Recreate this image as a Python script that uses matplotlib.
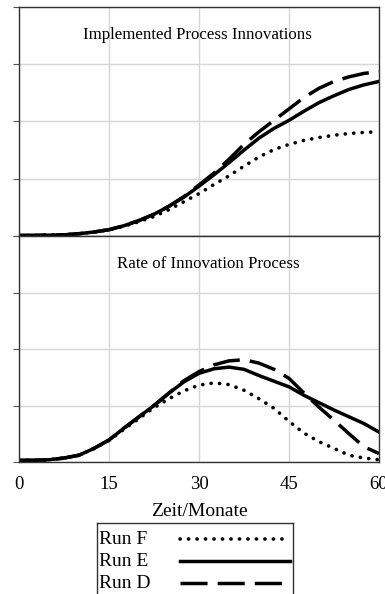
import matplotlib
matplotlib.use("Agg")
import matplotlib.pyplot as plt
from matplotlib.lines import Line2D

plt.rcParams['font.family'] = ['Liberation Serif', 'DejaVu Serif']

months = [0, 2.5, 5, 7.5, 10, 12.5, 15, 17.5, 20, 22.5, 25, 27.5, 30,
          32.5, 35, 37.5, 40, 42.5, 45, 47.5, 50, 52.5, 55, 57.5, 60]

# Implemented Process Innovations (grid units)
impl_F = [0.01, 0.01, 0.015, 0.02, 0.04, 0.07, 0.11, 0.17, 0.25, 0.34, 0.46, 0.60, 0.74,
          0.90, 1.05, 1.22, 1.38, 1.51, 1.60, 1.67, 1.72, 1.76, 1.79, 1.81, 1.82]
impl_E = [0.01, 0.01, 0.015, 0.02, 0.04, 0.07, 0.11, 0.18, 0.27, 0.38, 0.52, 0.68, 0.87,
          1.07, 1.28, 1.50, 1.71, 1.88, 2.02, 2.18, 2.33, 2.45, 2.56, 2.64, 2.70]
impl_D = [0.01, 0.01, 0.015, 0.02, 0.04, 0.07, 0.11, 0.18, 0.27, 0.38, 0.52, 0.69, 0.89,
          1.10, 1.34, 1.60, 1.82, 2.02, 2.22, 2.42, 2.58, 2.70, 2.78, 2.84, 2.87]

# Rate of Innovation Process (grid units)
rate_F = [0.03, 0.03, 0.04, 0.07, 0.12, 0.24, 0.38, 0.58, 0.77, 0.96, 1.12, 1.26, 1.36,
          1.40, 1.37, 1.27, 1.12, 0.95, 0.72, 0.51, 0.36, 0.24, 0.12, 0.07, 0.04]
rate_E = [0.03, 0.03, 0.04, 0.07, 0.12, 0.24, 0.39, 0.60, 0.80, 1.00, 1.22, 1.42, 1.57,
          1.65, 1.68, 1.64, 1.53, 1.43, 1.33, 1.18, 1.05, 0.92, 0.80, 0.68, 0.53]
rate_D = [0.03, 0.03, 0.04, 0.07, 0.12, 0.24, 0.39, 0.60, 0.80, 1.00, 1.22, 1.44, 1.60,
          1.72, 1.79, 1.81, 1.75, 1.64, 1.48, 1.22, 0.97, 0.74, 0.50, 0.27, 0.15]

run_labels = ["Run F", "Run E", "Run D"]
panel_titles = ["Implemented Process Innovations", "Rate of Innovation Process"]
x_ticks = [0, 15, 30, 45, 60]
y_ticks = [0, 1, 2, 3, 4]
x_label = "Zeit/Monate"

W, H = 385, 594
fig = plt.figure(figsize=(W / 100, H / 100), dpi=100)

left = 19 / W
width = (379 - 19) / W
ax1 = fig.add_axes([left, 1 - 236 / H, width, (236 - 7) / H])
ax2 = fig.add_axes([left, 1 - 462 / H, width, (462 - 236) / H])

styles = [
    dict(color='black', lw=2.6, linestyle=(0, (0.05, 2.3)), dash_capstyle='round', solid_capstyle='round'),
    dict(color='black', lw=2.5, linestyle='-'),
    dict(color='black', lw=2.5, linestyle=(0, (7.8, 2.9)), dash_capstyle='butt'),
]

for ax, series, title, tx in [
    (ax1, [impl_F, impl_E, impl_D], panel_titles[0], 0.497),
    (ax2, [rate_F, rate_E, rate_D], panel_titles[1], 0.527),
]:
    for s, st, lab in zip(series, styles, run_labels):
        ax.plot(months, s, label=lab, **st)
    ax.set_xlim(0, 60)
    ax.set_ylim(0, 4)
    ax.set_xticks(x_ticks)
    ax.set_yticks(y_ticks)
    ax.set_yticklabels([])
    ax.grid(True, color='#d6d6d6', lw=1.0)
    ax.set_axisbelow(True)
    ax.tick_params(axis='y', direction='out', length=4, width=0.8, color='#555555')
    ax.tick_params(axis='x', length=0)
    for sp in ax.spines.values():
        sp.set_color('#333333')
        sp.set_linewidth(1.0)
    ax.text(tx, 0.877, title, transform=ax.transAxes, ha='center', va='center', fontsize=12.2)

ax1.set_xticklabels([])
ax2.set_xticklabels([str(t) for t in x_ticks], fontsize=13.5)
ax2.tick_params(axis='x', pad=10)
xl = ax2.set_xlabel(x_label, fontsize=14)
xl.set_va('center')
ax2.xaxis.set_label_coords(0.5, -(511 - 462) / 226)

# Legend box (text left, line sample right), extends past the bottom edge like the reference
lx0, lx1, ly0, ly1 = 97, 293, 523, 605
lax = fig.add_axes([lx0 / W, 1 - ly1 / H, (lx1 - lx0) / W, (ly1 - ly0) / H])
lax.set_xlim(0, lx1 - lx0)
lax.set_ylim(ly1 - ly0, 0)
lax.set_xticks([])
lax.set_yticks([])
for sp in lax.spines.values():
    sp.set_color('#333333')
    sp.set_linewidth(1.0)
row_y = [539 - ly0, 561 - ly0, 583 - ly0]
for lab, st, yy in zip(run_labels, styles, row_y):
    lax.text(2, yy, lab, ha='left', va='center', fontsize=14)
    lax.add_line(Line2D([83, 193], [yy, yy], **st))

fig.savefig("out.png", dpi=100)
